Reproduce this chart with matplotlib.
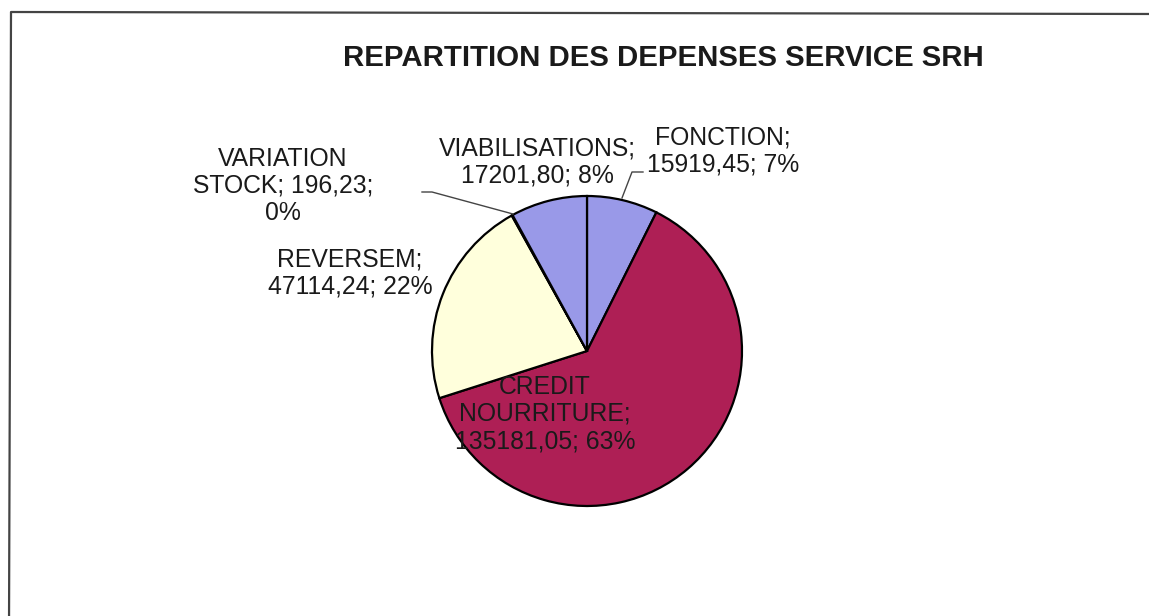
import matplotlib

matplotlib.use("Agg")
import matplotlib.pyplot as plt

plt.rcParams["font.family"] = ["Liberation Sans", "DejaVu Sans"]

# data, clockwise from 12 o'clock
names = ["FONCTION", "CREDIT\nNOURRITURE", "REVERSEM", "VARIATION\nSTOCK", "VIABILISATIONS"]
values = [15919.45, 135181.05, 47114.24, 196.23, 17201.80]
colors = ["#9999E8", "#AE1F55", "#FFFFDC", "#FFFFDC", "#9999E8"]
title = "REPARTITION DES DEPENSES SERVICE SRH"

# line breaks between name / value / percent for each label
seps = [(";\n", "; "), (";\n", "; "), (";\n", "; "), ("; ", ";\n"), (";\n", "; ")]
label_pos = [(723, 151), (545, 414), (350, 273), (283, 186), (537, 162)]

W, H = 1149, 616


def fy(y):
    return H - y


fig = plt.figure(figsize=(W / 100, H / 100), dpi=100)
ax = fig.add_axes([0, 0, 1, 1])

ax.pie(values, colors=colors, startangle=90, counterclock=False,
       center=(587, fy(351)), radius=155, frame=True,
       wedgeprops=dict(edgecolor="black", linewidth=1.6))
ax.set_xlim(0, W)
ax.set_ylim(0, H)
ax.set_aspect("equal")
ax.set_axis_off()

total = sum(values)
for name, val, (s1, s2), (x, y) in zip(names, values, seps, label_pos):
    pct = round(val / total * 100)
    txt = f"{name}{s1}{val:.2f}".replace(".", ",") + f"{s2}{pct}%"
    ax.text(x, fy(y), txt, ha="center", va="center", fontsize=17.8,
            linespacing=1.18, color="#1a1a1a")

# leader lines
ax.plot([643, 632, 622], [fy(172), fy(172), fy(198)], color="#444444", lw=1)
ax.plot([422, 432, 513], [fy(192), fy(192), fy(214)], color="#444444", lw=1)

ax.text(663, fy(58), title, ha="center", va="center", fontsize=21.2,
        fontweight="bold", color="#1a1a1a")

# chart frame
ax.plot([1160, 11, 9], [fy(14), fy(12), fy(630)], color="#444444", lw=1.6,
        clip_on=False)

fig.savefig("out.png", dpi=100)
